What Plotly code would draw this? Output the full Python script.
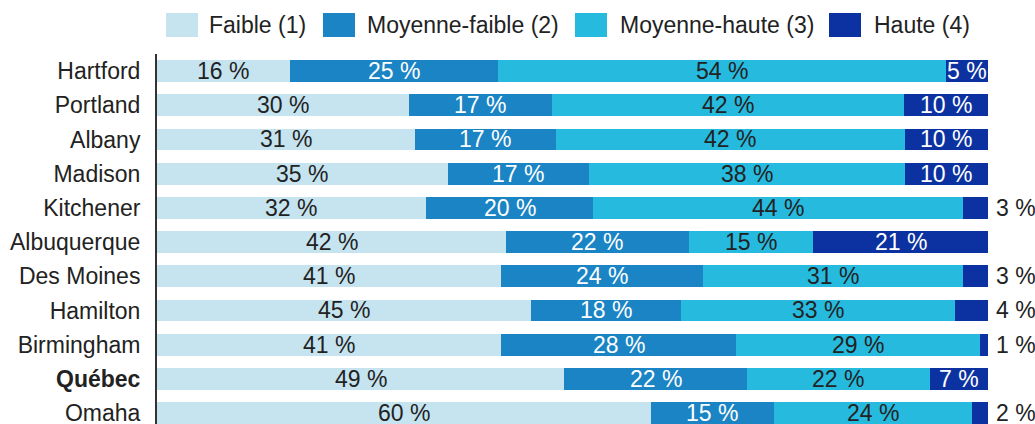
import plotly.graph_objects as go

cities = ["Hartford", "Portland", "Albany", "Madison", "Kitchener", "Albuquerque",
          "Des Moines", "Hamilton", "Birmingham", "<b>Québec</b>", "Omaha"]
faible = [16, 30, 31, 35, 32, 42, 41, 45, 41, 49, 60]
moy_faible = [25, 17, 17, 17, 20, 22, 24, 18, 28, 22, 15]
moy_haute = [54, 42, 42, 38, 44, 15, 31, 33, 29, 22, 24]
haute = [5, 10, 10, 10, 3, 21, 3, 4, 1, 7, 2]

series_names = ["Faible (1)", "Moyenne-faible (2)", "Moyenne-haute (3)", "Haute (4)"]
series = [faible, moy_faible, moy_haute, haute]
colors = ["#c6e4f0", "#1a84c4", "#26badf", "#0c32a2"]
text_colors = ["#222222", "white", "#222222", "white"]

FONT = "Liberation Sans, Arial, sans-serif"
FS = 23
W, H = 1035, 424
ML, MR, MT, MB = 157, 47, 54, 0
PW, PH = W - ML - MR, H - MT - MB

fig = go.Figure()
for name, vals, col in zip(series_names, series, colors):
    fig.add_trace(go.Bar(
        y=cities, x=vals, name=name, orientation="h",
        marker=dict(color=col, line=dict(width=0)),
        textposition="none", hoverinfo="x+y+name", showlegend=False,
    ))

# segment labels, centred in each (normalised) segment
annotations = []
for i, city in enumerate(cities):
    total = sum(s[i] for s in series)
    cum = 0
    for k, s in enumerate(series):
        v = s[i]
        mid = (cum + v / 2) / total * 100
        cum += v
        if k == 3 and v < 5:
            annotations.append(dict(x=100, y=city, xref="x", yref="y", text=f"{v} %",
                                    showarrow=False, xanchor="left", xshift=6,
                                    font=dict(size=FS, color="#222222", family=FONT)))
        else:
            annotations.append(dict(x=mid, y=city, xref="x", yref="y", text=f"{v} %",
                                    showarrow=False, xanchor="center",
                                    font=dict(size=FS, color=text_colors[k], family=FONT)))

# legend drawn manually above the plot
shapes = []
legend_px = [(166, 207), (323, 365), (575, 618), (829, 872)]
for (sx, tx), name, col in zip(legend_px, series_names, colors):
    shapes.append(dict(type="rect", xref="paper", yref="paper",
                       x0=(sx - ML) / PW, x1=(sx + 32 - ML) / PW,
                       y0=(H - MB - 37) / PH, y1=(H - MB - 13) / PH,
                       fillcolor=col, line=dict(width=0)))
    annotations.append(dict(x=(tx - ML) / PW, y=(H - MB - 25) / PH, xref="paper", yref="paper",
                            text=name, showarrow=False, xanchor="left", yanchor="middle",
                            font=dict(size=FS, color="#222222", family=FONT)))

fig.update_layout(
    width=W, height=H,
    barmode="stack", barnorm="percent", bargap=0.36,
    plot_bgcolor="white", paper_bgcolor="white",
    margin=dict(l=ML, r=MR, t=MT, b=MB, autoexpand=False),
    font=dict(family=FONT, size=FS, color="#222222"),
    showlegend=False,
    annotations=annotations, shapes=shapes,
)
fig.update_xaxes(range=[0, 100], visible=False, fixedrange=True)
fig.update_yaxes(autorange=False, range=[10.32, -0.5], showline=True, linecolor="#333333",
                 linewidth=2, ticks="", tickfont=dict(size=FS, color="#222222", family=FONT),
                 ticklabelstandoff=10, showgrid=False, automargin=False)

fig.write_html("out.html", config={"displayModeBar": False},
               post_script="document.body.style.margin='0';document.body.style.overflow='hidden';")
